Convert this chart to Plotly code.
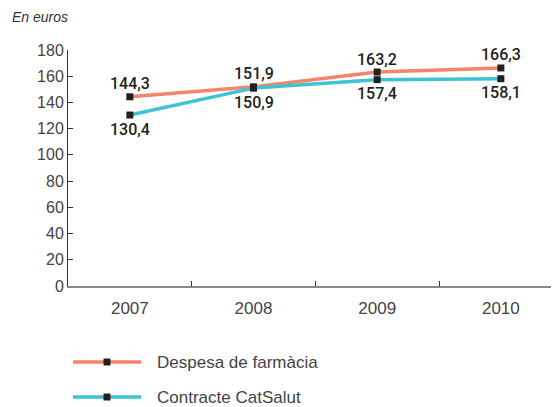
import plotly.graph_objects as go

years = ["2007", "2008", "2009", "2010"]
despesa = [144.3, 151.9, 163.2, 166.3]
contracte = [130.4, 150.9, 157.4, 158.1]
series_names = ["Despesa de farmàcia", "Contracte CatSalut"]
colors = ["#F4856A", "#3EC3D2"]
y_ticks = [0, 20, 40, 60, 80, 100, 120, 140, 160, 180]

# page body has an 8px margin; figure is shrunk so it fits the 559x407 window
OFF = 8
W, H = 559 - OFF, 407 - OFF
L, T, B = 68 - OFF, 50 - OFF, 121
PW, PH = W - L, H - T - B

fig = go.Figure()
for vals, name, col in [(despesa, series_names[0], colors[0]),
                        (contracte, series_names[1], colors[1])]:
    fig.add_trace(go.Scatter(
        x=years, y=vals, name=name, mode="lines+markers",
        line=dict(color=col, width=3.5),
        marker=dict(symbol="square", size=7, color="#231F20"),
        showlegend=False, cliponaxis=False,
    ))

label_font = dict(family="Roboto", size=16, color="#231F20", weight=500)
annotations = []
for vals, shift in [(despesa, 13), (contracte, -14)]:
    for i, v in enumerate(vals):
        # category index on the category x axis (year strings would be read as numbers)
        annotations.append(dict(x=i, y=v, xref="x", yref="y",
                                text=f"{v:.1f}".replace(".", ","),
                                showarrow=False, yshift=shift, yanchor="middle",
                                font=label_font))

annotations.append(dict(text="<i>En euros</i>", xref="paper", yref="paper",
                        x=(10 - 68) / PW, y=1 + 33 / PH, xanchor="left", yanchor="middle",
                        showarrow=False, font=dict(size=14, color="#333")))

fig.update_layout(
    width=W, height=H,
    margin=dict(l=L, r=0, t=T, b=B),
    paper_bgcolor="white", plot_bgcolor="white",
    separators=",.",
    font=dict(family="Liberation Sans", size=16, color="#444"),
    xaxis=dict(type="category", range=[-0.5, 3.47], tickson="boundaries",
               ticks="inside", ticklen=5, tickcolor="#333",
               showline=True, linecolor="#8a8a8a", linewidth=2,
               showgrid=False, zeroline=False, ticklabelstandoff=6,
               tickfont=dict(size=17, color="#444")),
    yaxis=dict(range=[0, 180], tickvals=y_ticks, ticks="inside", ticklen=5,
               tickcolor="#333", showline=True, linecolor="#333", linewidth=1,
               showgrid=False, zeroline=False,
               tickfont=dict(size=16, color="#444")),
    annotations=annotations,
)

# custom legend (positions in reference pixels, converted to paper coords)
for i, (name, col) in enumerate(zip(series_names, colors)):
    ypx = 362 + i * 35
    yp = (286 - ypx) / PH
    x0 = (73 - 68) / PW
    x1 = (141 - 68) / PW
    xm = (107 - 68) / PW
    fig.add_shape(type="line", xref="paper", yref="paper", x0=x0, x1=x1, y0=yp, y1=yp,
                  line=dict(color=col, width=3.5))
    fig.add_shape(type="rect", xref="paper", yref="paper",
                  x0=xm - 3.5 / PW, x1=xm + 3.5 / PW, y0=yp - 3.5 / PH, y1=yp + 3.5 / PH,
                  fillcolor="#231F20", line=dict(width=0))
    fig.add_annotation(text=name, xref="paper", yref="paper", x=(155 - 68) / PW, y=yp,
                       xanchor="left", yanchor="middle", showarrow=False,
                       font=dict(size=17, color="#444"))

fig.write_html("out.html")
